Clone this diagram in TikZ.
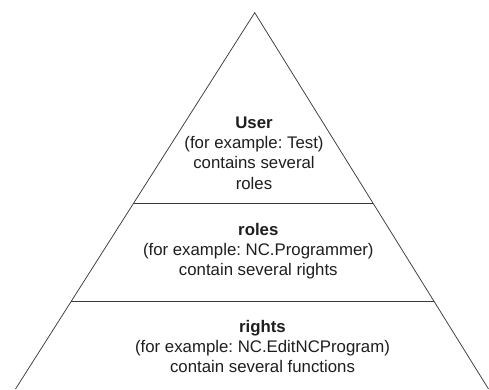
\documentclass[tikz,border=0pt]{standalone}
\usepackage{fontspec}
\setmainfont{Liberation Sans}
\usetikzlibrary{calc}
\definecolor{linegray}{HTML}{3A3A3A}
\definecolor{txt}{HTML}{1E1E1E}
\frenchspacing
\begin{document}
\begin{tikzpicture}[x=1pt,y=-1pt,
  edge/.style={draw=linegray,line width=0.75pt},
  tier/.style={align=center,text=txt,font=\fontsize{16.8}{20.3}\selectfont,inner sep=0pt}]
\useasboundingbox (0,0) rectangle (489,389);
\coordinate (apex) at (254.7,12.7);
\coordinate (bl) at (15.5,389);
\coordinate (br) at (488.5,389);
\coordinate (l1) at ($(apex)!0.5063!(bl)$);
\coordinate (r1) at ($(apex)!0.5063!(br)$);
\coordinate (l2) at ($(apex)!0.7674!(bl)$);
\coordinate (r2) at ($(apex)!0.7674!(br)$);
\draw[edge] (bl) -- (apex) -- (br);
\draw[edge] (l1) -- (r1);
\draw[edge] (l2) -- (r2);
\node[tier] (user) at (254,153) {\textbf{User}\\(for example: Test)\\contains several\\roles};
\node[tier] (roles) at (258.3,251) {\textbf{roles}\\(for example: NC.Programmer)\\contain several rights};
\node[tier] (rights) at (262.5,346.5) {\textbf{rights}\\(for example: NC.EditNCProgram)\\contain several functions};
\end{tikzpicture}
\end{document}
